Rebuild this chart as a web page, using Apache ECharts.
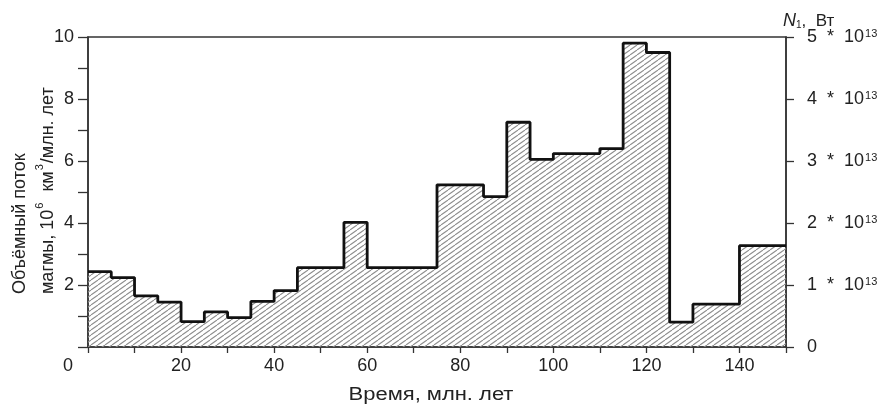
<!DOCTYPE html>
<html><head><meta charset="utf-8">
<script src="https://cdn.jsdelivr.net/npm/echarts@6/dist/echarts.min.js"></script>
<style>html,body{margin:0;padding:0;background:#fff}#c{width:889px;height:408px}</style>
</head><body><div id="c"></div>
<script>
// Step boundaries (Ma) and magma flux per step (10^6 km^3 / Ma)
const edges = [0,5,10,15,20,25,30,35,40,45,55,60,75,85,90,95,100,110,115,120,125,130,140,150];
const fluxValues = [2.43,2.24,1.65,1.45,0.82,1.13,0.95,1.47,1.82,2.56,4.02,2.56,5.23,4.85,7.25,6.05,6.24,6.40,9.8,9.5,0.8,1.38,3.27];
const xTickLabels = [0,20,40,60,80,100,120,140];
const leftTickLabels = [2,4,6,8,10];
const rightTickLabels = [0,1,2,3,4,5];
const xTitle = 'Время, млн. лет';

const stepPoints = edges.map((x,i)=>[x, fluxValues[Math.min(i, fluxValues.length-1)]]);

function hatch(){
  const w=7,h=5;
  const c=document.createElement('canvas'); c.width=w; c.height=h;
  const g=c.getContext('2d');
  g.strokeStyle='#8c8c8c'; g.lineWidth=1.1;
  for (const dx of [-w,0,w]) { g.beginPath(); g.moveTo(dx,h); g.lineTo(dx+w,0); g.stroke(); }
  return c;
}

const FONT='"Liberation Sans", Arial, sans-serif';
const TXT='#222';
const chart = echarts.init(document.getElementById('c'), null, {renderer:'canvas'});
chart.setOption({
  animation:false,
  backgroundColor:'#fff',
  textStyle:{fontFamily:FONT, color:TXT},
  grid:{left:88, right:103, top:37, bottom:61, show:true, borderColor:'#333', borderWidth:1.5, backgroundColor:'transparent', outerBoundsMode:'none'},
  xAxis:{
    type:'value', min:0, max:150, interval:10,
    axisLine:{show:true, lineStyle:{color:'#333', width:1.5}},
    axisTick:{show:true, length:6, lineStyle:{color:'#333', width:1.3}},
    splitLine:{show:false},
    axisLabel:{
      margin:10, fontSize:18, color:TXT, fontFamily:FONT,
      formatter:v=> xTickLabels.indexOf(v)<0 ? '' : (v===0 ? '{z|0}' : String(v)),
      rich:{z:{fontSize:18, color:TXT, fontFamily:FONT, padding:[0,40,0,0]}}
    }
  },
  yAxis:[{
    type:'value', min:0, max:10, interval:1, position:'left',
    axisLine:{show:true, lineStyle:{color:'#333', width:1.5}},
    axisTick:{show:true, length:10, lineStyle:{color:'#333', width:1.3}},
    splitLine:{show:false},
    axisLabel:{margin:14, fontSize:18, color:TXT, fontFamily:FONT,
      formatter:v=> leftTickLabels.indexOf(v)<0 ? '' : String(v)}
  },{
    type:'value', min:0, max:5, interval:1, position:'right',
    axisLine:{show:true, lineStyle:{color:'#333', width:1.5}},
    axisTick:{show:true, length:8, lineStyle:{color:'#333', width:1.3}},
    splitLine:{show:false},
    axisLabel:{margin:21, fontSize:18, color:TXT, fontFamily:FONT,
      formatter:v=> rightTickLabels.indexOf(v)<0 ? '' : (v===0 ? '{a|0}' : '{a|'+v+'  *  10}{s|13}'),
      rich:{a:{fontSize:18, color:TXT, fontFamily:FONT, lineHeight:18},
            s:{fontSize:11, color:TXT, fontFamily:FONT, verticalAlign:'top', padding:[0,0,0,1]}}}
  }],
  graphic:[
    {type:'text', x:6, y:294, rotation:Math.PI/2, z:10,
      style:{text:'{t|Объёмный поток}\n{t|магмы, 10}{s|6}{t|  км}{s|3}{t|/млн. лет}',
        align:'left', verticalAlign:'top',
        rich:{t:{font:'18px '+FONT, fill:TXT, lineHeight:28, height:28},
              s:{font:'11px '+FONT, fill:TXT, verticalAlign:'top', lineHeight:20, padding:[0,1,0,1]}}}},
    {type:'text', x:783, y:21, z:10,
      style:{text:'{n|N}{s|1}{t|,  Вт}', verticalAlign:'middle', align:'left',
        rich:{n:{font:'italic 18px '+FONT, fill:TXT},
              s:{font:'10px '+FONT, fill:TXT, verticalAlign:'bottom'},
              t:{font:'17px '+FONT, fill:TXT}}}},
    {type:'text', x:431, y:395, scaleX:1.22, z:10,
      style:{text:xTitle, font:'18px '+FONT, fill:TXT, align:'center', verticalAlign:'middle'}}
  ],
  series:[{
    type:'line', step:'end', data:stepPoints, yAxisIndex:0,
    showSymbol:false, symbol:'none',
    lineStyle:{color:'#111', width:2.8},
    areaStyle:{color:{image:hatch(), repeat:'repeat'}, opacity:1},
    z:3
  }]
});
</script></body></html>
